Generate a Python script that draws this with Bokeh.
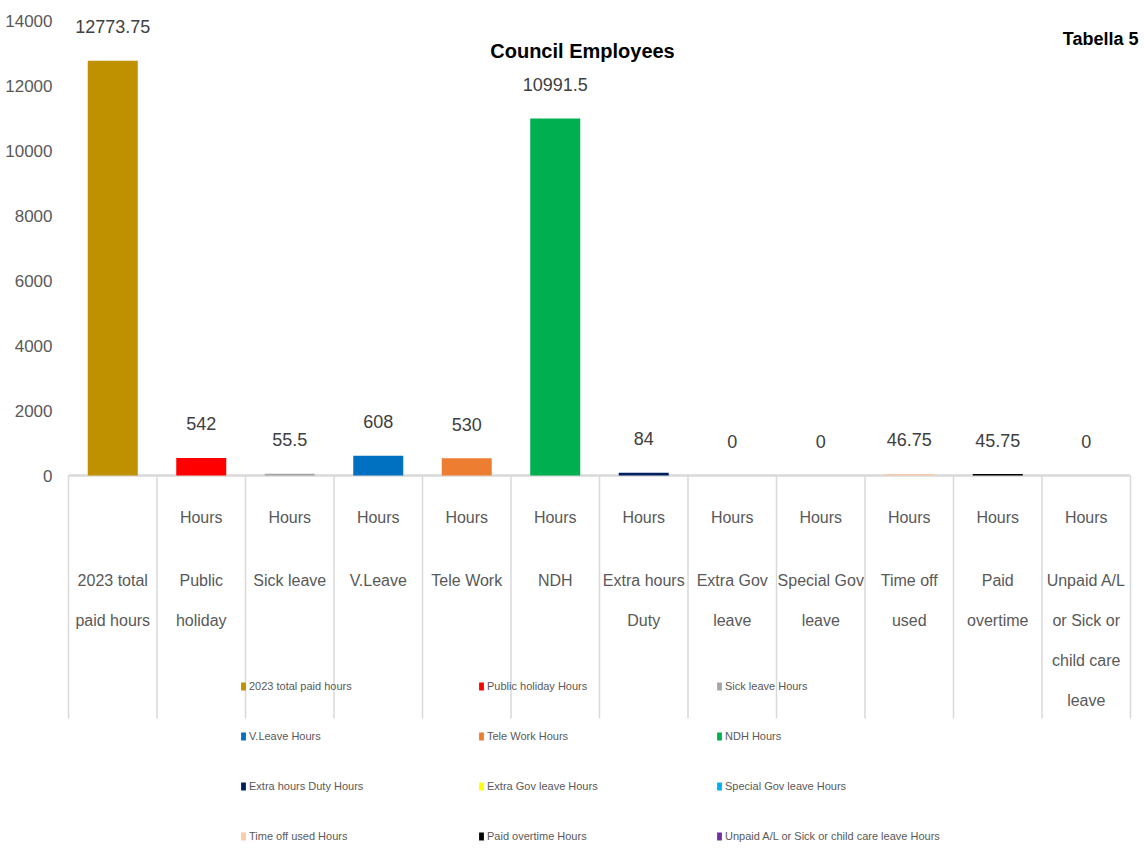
import textwrap
from bokeh.plotting import figure
from bokeh.models import ColumnDataSource, FactorRange, Range1d, FixedTicker, Label
from bokeh.core.properties import value
from bokeh.embed import file_html
from bokeh.resources import INLINE

# ---------------- data ----------------
categories = [
    "2023 total paid hours", "Public holiday", "Sick leave", "V.Leave", "Tele Work", "NDH",
    "Extra hours Duty", "Extra Gov leave", "Special Gov leave", "Time off used",
    "Paid overtime", "Unpaid A/L or Sick or child care leave",
]
units = ["", "Hours", "Hours", "Hours", "Hours", "Hours",
         "Hours", "Hours", "Hours", "Hours", "Hours", "Hours"]
hours = [12773.75, 542, 55.5, 608, 530, 10991.5, 84, 0, 0, 46.75, 45.75, 0]
colors = ["#BF9000", "#FF0000", "#A5A5A5", "#0070C0", "#ED7D31", "#00B050",
          "#002060", "#FFFF00", "#00B0F0", "#F8CBAD", "#000000", "#7030A0"]
y_ticks = [0, 2000, 4000, 6000, 8000, 10000, 12000, 14000]
title_text = "Council Employees"
corner_text = "Tabella 5"

# ---------------- layout helpers ----------------
FONT = "Liberation Sans"
W, H = 1144, 848
PLOT_LEFT, PLOT_RIGHT = 68, 1130       # category area in px
CAT_PX = (PLOT_RIGHT - PLOT_LEFT) / 12.0
FRAME_LEFT = 54
ZERO_PX, TOP_PX = 475, 20.3            # pixel rows of 0 and 14000
PX_PER_UNIT = (ZERO_PX - TOP_PX) / 14000.0
Y_TOP = 14000 + TOP_PX / PX_PER_UNIT
Y_BOT = -(H - ZERO_PX) / PX_PER_UNIT


def fmt(v):
    return ("%f" % v).rstrip("0").rstrip(".")


def y_px(py):
    return (ZERO_PX - py) / PX_PER_UNIT


def x_px(px):
    return (px - PLOT_LEFT) / CAT_PX


src = ColumnDataSource(dict(
    cat=categories,
    hours=hours,
    color=colors,
    label=[fmt(v) for v in hours],
    unit=units,
    legend=[(c + " " + u).strip() for c, u in zip(categories, units)],
))

line_cat, line_txt, line_off = [], [], []
for c in categories:
    for j, ln in enumerate(textwrap.wrap(c, width=11)):
        line_cat.append(c)
        line_txt.append(ln)
        line_off.append(105 + 40 * j)
lines_src = ColumnDataSource(dict(cat=line_cat, txt=line_txt, off=line_off))

pad = (PLOT_LEFT - FRAME_LEFT) / CAT_PX
p = figure(
    width=W, height=H,
    x_range=FactorRange(factors=categories, range_padding=pad, range_padding_units="absolute"),
    y_range=Range1d(Y_BOT, Y_TOP),
    output_backend="svg", toolbar_location=None,
    x_axis_location=None,
    min_border_left=FRAME_LEFT, min_border_right=0, min_border_top=0, min_border_bottom=0,
)
p.outline_line_color = None
p.xgrid.visible = False
p.ygrid.visible = False

yax = p.yaxis[0]
yax.ticker = FixedTicker(ticks=y_ticks)
yax.axis_line_color = None
yax.major_tick_line_color = None
yax.major_tick_out = 0
yax.minor_tick_line_color = None
yax.major_label_standoff = 2
yax.major_label_text_font = FONT
yax.major_label_text_font_size = "17px"
yax.major_label_text_color = "#595959"

# category separators and baseline
n = len(categories)
bounds = list(range(n + 1))
p.segment(x0=bounds, y0=[0] * (n + 1), x1=bounds, y1=[y_px(718)] * (n + 1),
          line_color="#D9D9D9", line_width=1.5)
p.segment(x0=[0], y0=[0], x1=[n], y1=[0], line_color="#D9D9D9", line_width=2.5)

# bars
p.vbar(x="cat", top="hours", width=0.565, fill_color="color", line_color=None,
       source=src, legend_field="legend")

# value labels
p.text(x="cat", y="hours", text="label", source=src, y_offset=-34,
       text_align="center", text_baseline="middle",
       text_font=value(FONT), text_font_size="18px", text_color="#404040")

# category labels (inner "Hours" + wrapped outer names)
p.text(x="cat", y=0, text="unit", source=src, y_offset=42,
       text_align="center", text_baseline="middle",
       text_font=value(FONT), text_font_size="16px", text_color="#595959")
p.text(x="cat", y=0, text="txt", source=lines_src, y_offset="off",
       text_align="center", text_baseline="middle",
       text_font=value(FONT), text_font_size="16px", text_color="#595959")

# title and corner tag
p.add_layout(Label(x=x_px(582), y=y_px(50), text=title_text,
                   text_align="center", text_baseline="middle",
                   text_font=FONT, text_font_style="bold", text_font_size="20px",
                   text_color="black"))
p.add_layout(Label(x=x_px(1138), y=y_px(38), text=corner_text,
                   text_align="right", text_baseline="middle",
                   text_font=FONT, text_font_style="bold", text_font_size="18px",
                   text_color="black"))

leg = p.legend[0]
leg.location = (240 - FRAME_LEFT, 6)
leg.orientation = "horizontal"
leg.ncols = 3
leg.glyph_width = 6
leg.glyph_height = 10
leg.label_height = 10
leg.label_standoff = 3
leg.label_width = 191
leg.spacing = 38
leg.padding = 0
leg.margin = 0
leg.border_line_color = None
leg.background_fill_alpha = 0
leg.label_text_font = FONT
leg.label_text_font_size = "11px"
leg.label_text_color = "#595959"

open("out.html", "w").write(file_html(p, INLINE))
